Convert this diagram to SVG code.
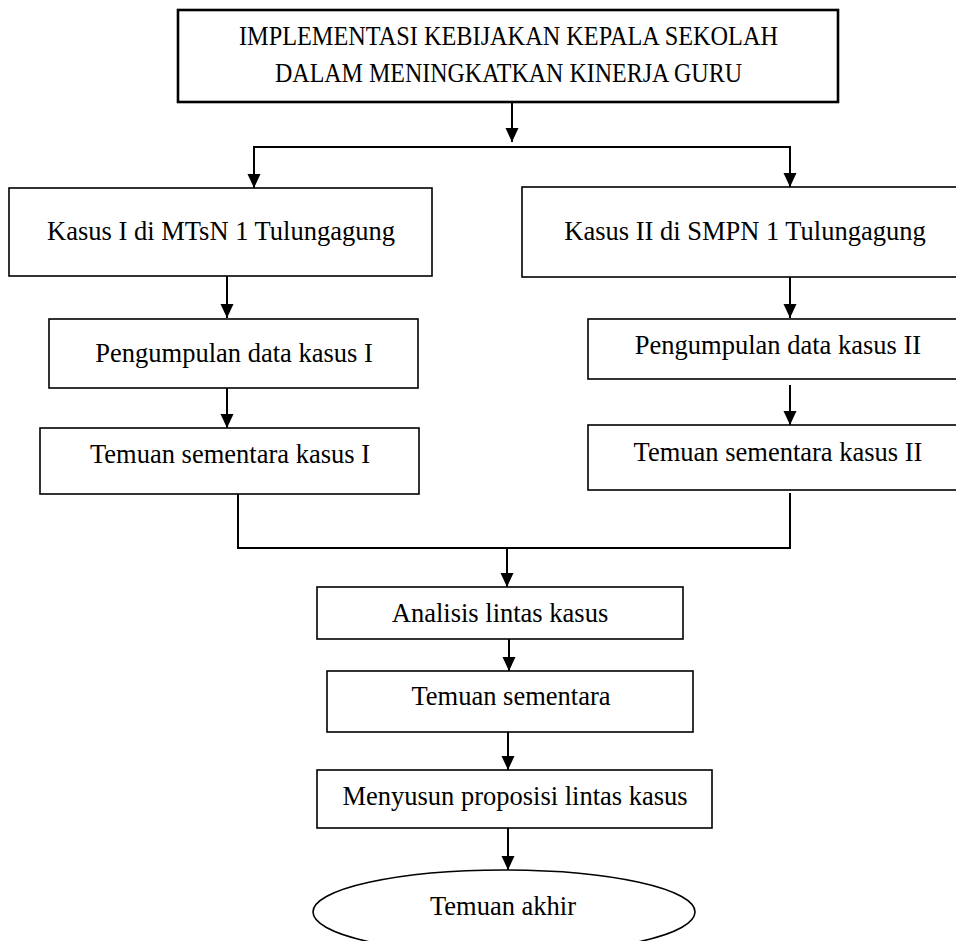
<svg xmlns="http://www.w3.org/2000/svg" width="956" height="941" viewBox="0 0 956 941">
<style>
  .box { fill: #fff; stroke: #000; stroke-width: 1.6; }
  .top { fill: #fff; stroke: #000; stroke-width: 2.6; }
  .lbl { font-family: "Liberation Serif", "Times New Roman", serif; font-size: 26.5px; fill: #000; text-anchor: middle; }
  .ttl { font-family: "Liberation Serif", "Times New Roman", serif; font-size: 27px; fill: #000; }
  .con { fill: none; stroke: #000; stroke-width: 2; }
</style>
<defs>
  <marker id="ah" markerUnits="userSpaceOnUse" markerWidth="14" markerHeight="14" refX="14" refY="6.5" orient="auto">
    <path d="M0,0 L14,6.5 L0,13 z" fill="#000"/>
  </marker>
</defs>
<rect width="956" height="941" fill="#fff"/>

<g id="connectors">
  <line class="con" x1="512" y1="102" x2="512" y2="142" marker-end="url(#ah)"/>
  <polyline class="con" points="254,188 254,147 790,147 790,187"/>
  <line class="con" x1="254" y1="150" x2="254" y2="188" marker-end="url(#ah)"/>
  <line class="con" x1="790" y1="150" x2="790" y2="187" marker-end="url(#ah)"/>
  <line class="con" x1="227" y1="276" x2="227" y2="318" marker-end="url(#ah)"/>
  <line class="con" x1="790" y1="277" x2="790" y2="318" marker-end="url(#ah)"/>
  <line class="con" x1="227" y1="388" x2="227" y2="428" marker-end="url(#ah)"/>
  <line class="con" x1="790" y1="385" x2="790" y2="425" marker-end="url(#ah)"/>
  <polyline class="con" points="238,494 238,548 790,548 790,493"/>
  <line class="con" x1="507" y1="548" x2="507" y2="587" marker-end="url(#ah)"/>
  <line class="con" x1="509" y1="632" x2="509" y2="671" marker-end="url(#ah)"/>
  <line class="con" x1="508" y1="732" x2="508" y2="770" marker-end="url(#ah)"/>
  <line class="con" x1="508" y1="828" x2="508" y2="870" marker-end="url(#ah)"/>
</g>

<g id="title">
  <rect class="top" x="178" y="10" width="660" height="92"/>
  <text class="ttl" x="239" y="45" textLength="539" lengthAdjust="spacingAndGlyphs">IMPLEMENTASI KEBIJAKAN KEPALA SEKOLAH</text>
  <text class="ttl" x="275" y="82" textLength="467" lengthAdjust="spacingAndGlyphs">DALAM MENINGKATKAN KINERJA GURU</text>
</g>

<g id="kasus1">
  <rect class="box" x="9" y="188" width="423" height="88"/>
  <text class="lbl" x="221" y="240">Kasus I di MTsN 1 Tulungagung</text>
</g>
<g id="kasus2">
  <rect class="box" x="522" y="187" width="440" height="90"/>
  <text class="lbl" x="745" y="240">Kasus II di SMPN 1 Tulungagung</text>
</g>
<g id="pengumpulan1">
  <rect class="box" x="49" y="319" width="369" height="69"/>
  <text class="lbl" x="234" y="362">Pengumpulan data kasus I</text>
</g>
<g id="pengumpulan2">
  <rect class="box" x="588" y="319" width="374" height="60"/>
  <text class="lbl" x="778" y="354">Pengumpulan data kasus II</text>
</g>
<g id="temuan1">
  <rect class="box" x="40" y="428" width="379" height="66"/>
  <text class="lbl" x="230" y="463">Temuan sementara kasus I</text>
</g>
<g id="temuan2">
  <rect class="box" x="588" y="425" width="374" height="65"/>
  <text class="lbl" x="778" y="461">Temuan sementara kasus II</text>
</g>
<g id="analisis">
  <rect class="box" x="317" y="587" width="366" height="52"/>
  <text class="lbl" x="500" y="622">Analisis lintas kasus</text>
</g>
<g id="temuan-sementara">
  <rect class="box" x="327" y="671" width="366" height="61"/>
  <text class="lbl" x="511" y="705">Temuan sementara</text>
</g>
<g id="menyusun">
  <rect class="box" x="317" y="770" width="395" height="58"/>
  <text class="lbl" x="515" y="805">Menyusun proposisi lintas kasus</text>
</g>
<g id="temuan-akhir">
  <ellipse class="box" cx="504" cy="912" rx="191" ry="42"/>
  <text class="lbl" x="503" y="915">Temuan akhir</text>
</g>
</svg>
